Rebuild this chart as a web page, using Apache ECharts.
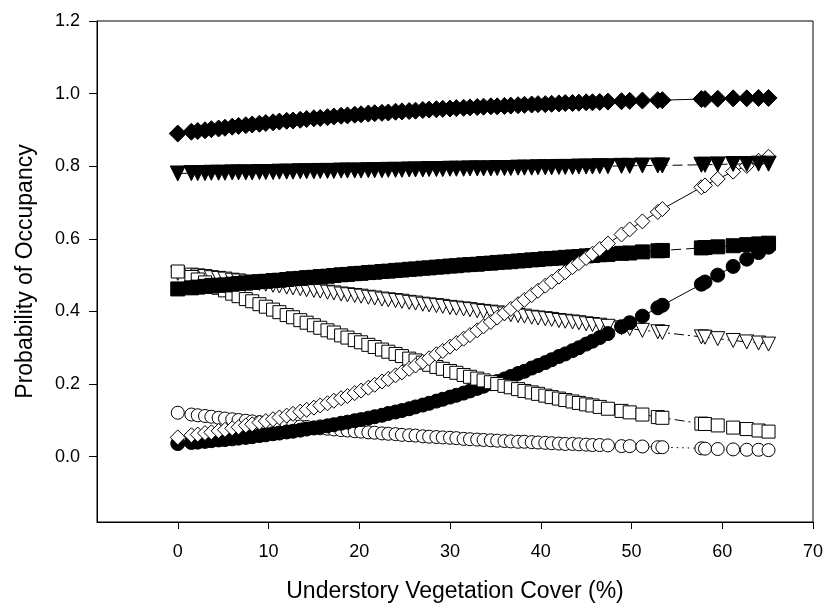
<!DOCTYPE html>
<html>
<head>
<meta charset="utf-8">
<script src="https://cdn.jsdelivr.net/npm/echarts@6/dist/echarts.min.js"></script>
<style>
  html, body { margin: 0; padding: 0; background: #fff; }
  #chart { width: 831px; height: 610px; }
</style>
</head>
<body>
<div id="chart"></div>
<script>
// understory vegetation cover (%) at each plotted point
var coverX = [0, 1.5, 2.2, 3, 3.7, 4.5, 5.2, 6, 6.7, 7.5, 8.2, 9, 9.7, 10.5, 11.2, 12, 12.7, 13.5, 14.2, 15,
  15.7, 16.5, 17.2, 18, 18.7, 19.5, 20.2, 21, 21.7, 22.5, 23.2, 24, 24.7, 25.5, 26.2, 27, 27.7, 28.5, 29.2, 30,
  30.7, 31.5, 32.2, 33, 33.7, 34.5, 35.2, 36, 36.7, 37.5, 38.2, 39, 39.7, 40.5, 41.2, 42, 42.7, 43.5, 44.2, 45,
  45.7, 46.5, 47.4, 48.9, 49.8, 51.2, 52.9, 53.4, 57.7, 58.1, 59.5, 61.2, 62.7, 64, 65.1];

// probability of occupancy, one list per species (same order as coverX)
var diamondFilled = [0.890, 0.895, 0.897, 0.899, 0.902, 0.904, 0.906, 0.909, 0.911, 0.913, 0.915, 0.917, 0.919, 0.921, 0.923, 0.925, 0.926, 0.928, 0.930, 0.932,
  0.933, 0.935, 0.937, 0.939, 0.940, 0.942, 0.943, 0.945, 0.946, 0.947, 0.948, 0.950, 0.951, 0.952, 0.953, 0.955, 0.956, 0.957, 0.958, 0.959,
  0.960, 0.961, 0.962, 0.963, 0.964, 0.965, 0.965, 0.966, 0.967, 0.968, 0.969, 0.970, 0.971, 0.971, 0.972, 0.973, 0.974, 0.974, 0.975, 0.976,
  0.976, 0.977, 0.978, 0.979, 0.980, 0.981, 0.982, 0.982, 0.985, 0.985, 0.986, 0.987, 0.987, 0.988, 0.988];
var triangleFilled = [0.780, 0.781, 0.781, 0.781, 0.782, 0.782, 0.782, 0.783, 0.783, 0.783, 0.783, 0.784, 0.784, 0.784, 0.785, 0.785, 0.785, 0.786, 0.786, 0.786,
  0.787, 0.787, 0.787, 0.788, 0.788, 0.788, 0.788, 0.789, 0.789, 0.789, 0.790, 0.790, 0.790, 0.791, 0.791, 0.791, 0.792, 0.792, 0.792, 0.793,
  0.793, 0.793, 0.794, 0.794, 0.794, 0.794, 0.795, 0.795, 0.795, 0.796, 0.796, 0.796, 0.797, 0.797, 0.797, 0.798, 0.798, 0.798, 0.799, 0.799,
  0.799, 0.800, 0.800, 0.801, 0.801, 0.802, 0.802, 0.802, 0.804, 0.804, 0.805, 0.806, 0.806, 0.807, 0.807];
var diamondOpen = [0.053, 0.059, 0.061, 0.065, 0.067, 0.071, 0.074, 0.078, 0.081, 0.086, 0.089, 0.094, 0.098, 0.103, 0.108, 0.113, 0.118, 0.124, 0.129, 0.135,
  0.141, 0.147, 0.154, 0.161, 0.167, 0.175, 0.182, 0.190, 0.198, 0.207, 0.214, 0.224, 0.232, 0.242, 0.251, 0.261, 0.271, 0.282, 0.291, 0.303,
  0.313, 0.325, 0.335, 0.348, 0.359, 0.371, 0.383, 0.395, 0.407, 0.420, 0.432, 0.445, 0.457, 0.471, 0.482, 0.496, 0.508, 0.522, 0.533, 0.547,
  0.559, 0.572, 0.587, 0.612, 0.626, 0.648, 0.674, 0.682, 0.742, 0.747, 0.765, 0.785, 0.801, 0.815, 0.826];
var squareFilled = [0.462, 0.465, 0.467, 0.469, 0.470, 0.472, 0.473, 0.475, 0.477, 0.478, 0.480, 0.482, 0.483, 0.485, 0.486, 0.488, 0.490, 0.491, 0.493, 0.494,
  0.496, 0.497, 0.499, 0.501, 0.502, 0.504, 0.505, 0.507, 0.508, 0.510, 0.511, 0.513, 0.514, 0.516, 0.517, 0.519, 0.520, 0.522, 0.523, 0.525,
  0.526, 0.528, 0.529, 0.530, 0.532, 0.533, 0.535, 0.536, 0.537, 0.539, 0.540, 0.542, 0.543, 0.545, 0.546, 0.547, 0.549, 0.550, 0.551, 0.553,
  0.554, 0.556, 0.557, 0.560, 0.561, 0.564, 0.567, 0.568, 0.575, 0.576, 0.578, 0.581, 0.584, 0.586, 0.588];
var circleFilled = [0.036, 0.039, 0.040, 0.042, 0.044, 0.046, 0.047, 0.049, 0.051, 0.053, 0.055, 0.058, 0.060, 0.063, 0.065, 0.068, 0.070, 0.073, 0.076, 0.079,
  0.082, 0.085, 0.088, 0.092, 0.095, 0.099, 0.102, 0.106, 0.110, 0.114, 0.119, 0.123, 0.127, 0.132, 0.137, 0.142, 0.147, 0.153, 0.158, 0.164,
  0.169, 0.175, 0.181, 0.188, 0.194, 0.201, 0.207, 0.214, 0.221, 0.229, 0.235, 0.244, 0.251, 0.259, 0.267, 0.276, 0.283, 0.292, 0.300, 0.310,
  0.318, 0.328, 0.339, 0.358, 0.369, 0.387, 0.410, 0.417, 0.475, 0.481, 0.500, 0.524, 0.544, 0.562, 0.577];
var squareOpen = [0.510, 0.495, 0.488, 0.480, 0.473, 0.465, 0.458, 0.449, 0.442, 0.434, 0.428, 0.420, 0.413, 0.405, 0.398, 0.390, 0.384, 0.376, 0.369, 0.362,
  0.355, 0.348, 0.342, 0.334, 0.328, 0.321, 0.315, 0.308, 0.302, 0.295, 0.289, 0.283, 0.277, 0.270, 0.265, 0.259, 0.253, 0.247, 0.242, 0.236,
  0.231, 0.225, 0.220, 0.215, 0.210, 0.205, 0.200, 0.195, 0.191, 0.186, 0.181, 0.177, 0.173, 0.168, 0.164, 0.160, 0.156, 0.152, 0.148, 0.144,
  0.141, 0.137, 0.132, 0.126, 0.122, 0.116, 0.109, 0.107, 0.091, 0.090, 0.086, 0.080, 0.076, 0.072, 0.069];
var triangleOpen = [0.505, 0.500, 0.498, 0.496, 0.493, 0.491, 0.489, 0.486, 0.484, 0.481, 0.479, 0.477, 0.475, 0.472, 0.470, 0.467, 0.465, 0.463, 0.460, 0.458,
  0.456, 0.453, 0.451, 0.448, 0.446, 0.444, 0.442, 0.439, 0.437, 0.434, 0.432, 0.430, 0.428, 0.425, 0.423, 0.420, 0.418, 0.416, 0.414, 0.411,
  0.409, 0.407, 0.405, 0.402, 0.400, 0.398, 0.396, 0.393, 0.391, 0.389, 0.387, 0.384, 0.382, 0.380, 0.378, 0.375, 0.373, 0.371, 0.369, 0.366,
  0.364, 0.362, 0.359, 0.355, 0.353, 0.348, 0.344, 0.342, 0.330, 0.329, 0.325, 0.320, 0.316, 0.313, 0.310];
var circleOpen = [0.121, 0.116, 0.114, 0.112, 0.110, 0.107, 0.105, 0.103, 0.101, 0.099, 0.097, 0.095, 0.093, 0.091, 0.089, 0.087, 0.085, 0.083, 0.082, 0.080,
  0.078, 0.077, 0.075, 0.073, 0.072, 0.070, 0.069, 0.067, 0.066, 0.064, 0.063, 0.062, 0.060, 0.059, 0.058, 0.056, 0.055, 0.054, 0.053, 0.052,
  0.051, 0.049, 0.048, 0.047, 0.046, 0.045, 0.044, 0.043, 0.042, 0.041, 0.041, 0.040, 0.039, 0.038, 0.037, 0.036, 0.035, 0.035, 0.034, 0.033,
  0.032, 0.032, 0.031, 0.029, 0.029, 0.028, 0.026, 0.026, 0.023, 0.022, 0.021, 0.020, 0.019, 0.019, 0.018];

var xTicks = [0, 10, 20, 30, 40, 50, 60, 70];
var yTicks = [0, 0.2, 0.4, 0.6, 0.8, 1.0, 1.2];

var font = 'Liberation Sans, Arial, sans-serif';

function pairs(ys) {
  return coverX.map(function (x, i) { return [x, ys[i]]; });
}

function makeSeries(name, ys, symbol, size, filled, dash, rotate) {
  return {
    name: name,
    type: 'line',
    data: pairs(ys),
    symbol: symbol,
    symbolSize: size,
    symbolRotate: rotate || 0,
    showAllSymbol: true,
    animation: false,
    lineStyle: { color: '#000', width: 1, type: dash },
    itemStyle: {
      color: filled ? '#000' : '#fff',
      borderColor: '#000',
      borderWidth: 1
    }
  };
}

var chart = echarts.init(document.getElementById('chart'), null, { renderer: 'canvas' });

var option = {
  backgroundColor: '#fff',
  animation: false,
  grid: {
    left: 97, top: 21, right: 18, bottom: 88,
    outerBoundsMode: 'none',
    containLabel: false,
    show: true, borderColor: '#000', borderWidth: 1, backgroundColor: 'transparent'
  },
  xAxis: {
    type: 'value',
    min: -8.9,
    max: 70,
    name: 'Understory Vegetation Cover (%)',
    nameLocation: 'middle',
    nameGap: 58,
    nameTextStyle: { color: '#000', fontSize: 23, fontFamily: font },
    axisLine: { show: true, onZero: false, lineStyle: { color: '#000', width: 1 } },
    axisTick: { show: true, inside: false, length: 7, customValues: xTicks, lineStyle: { color: '#000' } },
    axisLabel: { customValues: xTicks, color: '#000', fontSize: 18, fontFamily: font, margin: 21 },
    splitLine: { show: false }
  },
  yAxis: {
    type: 'value',
    min: -0.18,
    max: 1.2,
    name: 'Probability of Occupancy',
    nameLocation: 'middle',
    nameGap: 60,
    nameTextStyle: { color: '#000', fontSize: 23, fontFamily: font },
    axisLine: { show: true, onZero: false, lineStyle: { color: '#000', width: 1 } },
    axisTick: { show: true, inside: false, length: 8, customValues: yTicks, lineStyle: { color: '#000' } },
    axisLabel: {
      customValues: yTicks, color: '#000', fontSize: 18, fontFamily: font, margin: 17,
      formatter: function (v) { return v.toFixed(1); }
    },
    splitLine: { show: false }
  },
  series: [
    makeSeries('open circle', circleOpen, 'circle', 13, false, [1.5, 4]),
    makeSeries('open triangle', triangleOpen, 'triangle', 14, false, [10, 4, 2, 4], 180),
    makeSeries('filled circle', circleFilled, 'circle', 14, true, 'solid'),
    makeSeries('open square', squareOpen, 'rect', 13, false, [10, 4, 2, 4]),
    makeSeries('filled square', squareFilled, 'rect', 14, true, [10, 5]),
    makeSeries('open diamond', diamondOpen, 'diamond', 15, false, 'solid'),
    makeSeries('filled triangle', triangleFilled, 'triangle', 15, true, [10, 5], 180),
    makeSeries('filled diamond', diamondFilled, 'diamond', 17, true, 'solid')
  ]
};

chart.setOption(option);
</script>
</body>
</html>
